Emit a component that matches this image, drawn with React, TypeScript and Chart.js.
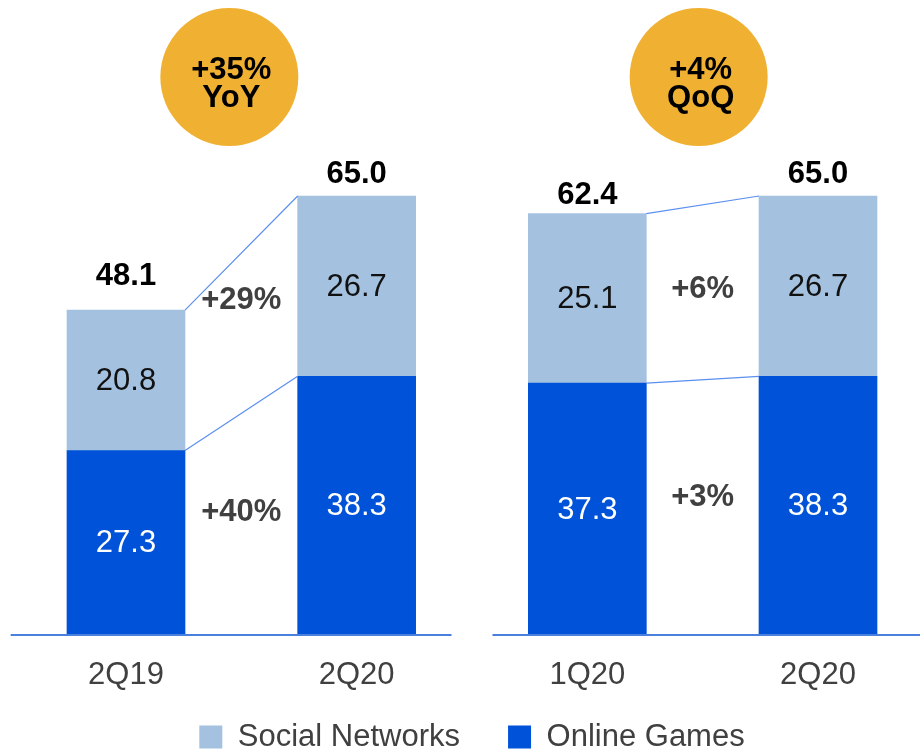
import React, { useEffect, useRef } from "react";
import { Chart, registerables } from "chart.js";

Chart.register(...registerables);

// ---- data ----
const categories = ["2Q19", "2Q20", "1Q20", "2Q20"];
const onlineGames = [27.3, 38.3, 37.3, 38.3];
const socialNetworks = [20.8, 26.7, 25.1, 26.7];
const totals = [48.1, 65.0, 62.4, 65.0];
const pairs = [
  [0, 1],
  [2, 3],
];
const socialGrowth = ["+29%", "+6%"];
const gamesGrowth = ["+40%", "+3%"];
const headlineTop = ["+35%", "+4%"];
const headlineBottom = ["YoY", "QoQ"];
// where the growth labels sit, in data units
const socialGrowthAt = [49.6, 51.1];
const gamesGrowthAt = [18.1, 20.4];

// ---- styles ----
const FONT = "'Liberation Sans', Arial, Helvetica, sans-serif";
const DARK = "#0053d9";
const LIGHT = "#a4c2e0";
const ORANGE = "#f0b132";
const GREY = "#404040";
const AXIS = "#4a80dd";
const CONNECT = "#5b8ff0";
const totalLift = [25, 13, 9.5, 13];
const circleShift = [-12, -4];
const circleRadius = 69;
const circleCenterY = 77;

const overlay = {
  id: "overlay",
  afterDatasetsDraw(chart: any) {
    const ctx = chart.ctx as CanvasRenderingContext2D;
    const area = chart.chartArea;
    const yScale = chart.scales.y;
    const g = chart.getDatasetMeta(0).data; // online games
    const s = chart.getDatasetMeta(1).data; // social networks
    const half = (g[1].x - g[0].x) / 2;
    const gapMid = (g[1].x + g[2].x) / 2;
    ctx.save();

    // axis lines (two panels)
    ctx.strokeStyle = AXIS;
    ctx.lineWidth = 2;
    ctx.beginPath();
    ctx.moveTo(g[0].x - half, area.bottom);
    ctx.lineTo(gapMid - 20.5, area.bottom);
    ctx.moveTo(gapMid + 20.5, area.bottom);
    ctx.lineTo(chart.width, area.bottom);
    ctx.stroke();

    // connectors
    ctx.strokeStyle = CONNECT;
    ctx.lineWidth = 1.2;
    pairs.forEach(([a, b]) => {
      const ra = g[a].x + g[a].width / 2;
      const lb = g[b].x - g[b].width / 2;
      ctx.beginPath();
      ctx.moveTo(ra, s[a].y);
      ctx.lineTo(lb, s[b].y);
      ctx.moveTo(ra, g[a].y);
      ctx.lineTo(lb, g[b].y);
      ctx.stroke();
    });

    // segment labels
    ctx.textAlign = "center";
    ctx.textBaseline = "middle";
    ctx.font = `31px ${FONT}`;
    categories.forEach((_, i) => {
      ctx.fillStyle = "#ffffff";
      ctx.fillText(onlineGames[i].toFixed(1), g[i].x, (g[i].y + g[i].base) / 2 + 1);
      ctx.fillStyle = "#111111";
      ctx.fillText(socialNetworks[i].toFixed(1), s[i].x, (s[i].y + s[i].base) / 2 + 1);
    });

    // totals
    ctx.textBaseline = "alphabetic";
    ctx.font = `bold 31px ${FONT}`;
    ctx.fillStyle = "#000000";
    categories.forEach((_, i) => {
      const top = yScale.getPixelForValue(totals[i]);
      ctx.fillText(totals[i].toFixed(1), s[i].x, top - totalLift[i]);
    });

    // growth labels
    ctx.textBaseline = "middle";
    ctx.fillStyle = GREY;
    pairs.forEach(([a, b], k) => {
      const mx = (g[a].x + g[b].x) / 2;
      ctx.fillText(socialGrowth[k], mx, yScale.getPixelForValue(socialGrowthAt[k]));
      ctx.fillText(gamesGrowth[k], mx, yScale.getPixelForValue(gamesGrowthAt[k]));
    });

    // headline circles
    pairs.forEach(([a, b], k) => {
      const cx = (g[a].x + g[b].x) / 2 + circleShift[k];
      ctx.fillStyle = ORANGE;
      ctx.beginPath();
      ctx.arc(cx, circleCenterY, circleRadius, 0, Math.PI * 2);
      ctx.fill();
      ctx.fillStyle = "#000000";
      ctx.textBaseline = "alphabetic";
      ctx.font = `bold 31px ${FONT}`;
      ctx.fillText(headlineTop[k], cx + 2, circleCenterY + 2);
      ctx.fillText(headlineBottom[k], cx + 2, circleCenterY + 30);
    });

    ctx.restore();
  },
};

export default function App() {
  const ref = useRef<HTMLCanvasElement | null>(null);

  useEffect(() => {
    document.body.style.margin = "0";
    document.body.style.overflow = "hidden";
    const canvas = ref.current;
    if (!canvas) return;
    const chart = new Chart(canvas, {
      type: "bar",
      data: {
        labels: categories,
        datasets: [
          {
            label: "Online Games",
            data: onlineGames,
            backgroundColor: DARK,
            borderWidth: 0,
            barThickness: 118,
            clip: false as any,
          },
          {
            label: "Social Networks",
            data: socialNetworks,
            backgroundColor: LIGHT,
            borderWidth: 0,
            barThickness: 118,
            clip: false as any,
          },
        ],
      },
      options: {
        responsive: false,
        animation: false,
        devicePixelRatio: 1,
        layout: { padding: { top: 196, left: 126, right: 102, bottom: 0 } },
        plugins: {
          tooltip: { enabled: false },
          legend: {
            position: "bottom",
            reverse: true,
            maxHeight: 77.5,
            labels: {
              boxWidth: 23,
              boxHeight: 23,
              padding: 48,
              color: GREY,
              font: { family: FONT, size: 31 },
            },
          },
        },
        scales: {
          x: {
            stacked: true,
            offset: false,
            grid: { display: false, drawTicks: false },
            border: { display: false },
            ticks: {
              color: GREY,
              padding: 22,
              font: { family: FONT, size: 31 },
              maxRotation: 0,
            },
            afterFit: (scale: any) => {
              scale.height = 38.5;
              // let the tick labels extend below the shortened axis box
              scale._computeLabelArea = () => undefined;
            },
          },
          y: {
            stacked: true,
            display: false,
            min: 0,
            max: 65,
          },
        },
      },
      plugins: [overlay],
    });
    return () => chart.destroy();
  }, []);

  return (
    <div style={{ width: 920, height: 751 }}>
      <canvas ref={ref} width={920} height={751} style={{ display: "block", width: 920, height: 751 }} />
    </div>
  );
}
